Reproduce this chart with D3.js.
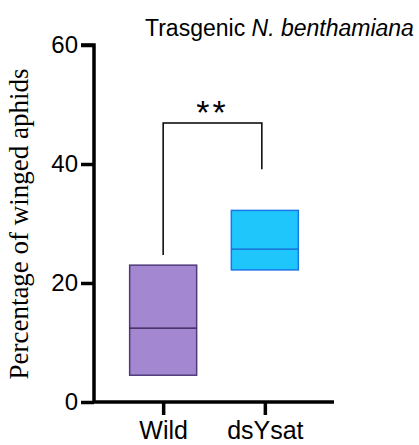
<!DOCTYPE html>
<meta charset="utf-8">
<style>
body{ margin: 0; background: white; }
svg text{ font-family: Arial, "Liberation Sans", sans-serif; }
</style>
<body>
<script src="https://cdn.jsdelivr.net/npm/d3@7"></script>
<script>

var groups = ['Wild', 'dsYsat']
var q1 = [4.5, 22.2],
    median = [12.4, 25.7],
    q3 = [23.0, 32.2]
var fills = ['#a388d1', '#1ec6fb'],
    strokes = ['#4f3b7a', '#1976e8']
var yTicks = [0, 20, 40, 60]
// significance bracket: left foot, top, right foot
var bracket = [24.7, 46.9, 39.1]

var width = 419, height = 445

var svg = d3.select('body').append('svg')
    .attr('width', width)
    .attr('height', height)

var x = d3.scalePoint().domain(groups).range([94, 334]).padding(0.68)
var y = d3.scaleLinear().domain([0, 60]).range([402, 45])
var boxW = 67

// boxes
var box = svg.selectAll('g.box').data(groups).enter().append('g')

box.append('rect')
    .attr('x', function(d){ return x(d) - boxW/2 })
    .attr('y', function(d, i){ return y(q3[i]) })
    .attr('width', boxW)
    .attr('height', function(d, i){ return y(q1[i]) - y(q3[i]) })
    .style('fill', function(d, i){ return fills[i] })
    .style('stroke', function(d, i){ return strokes[i] })
    .style('stroke-width', 1.5)

box.append('line')
    .attr('x1', function(d){ return x(d) - boxW/2 })
    .attr('x2', function(d){ return x(d) + boxW/2 })
    .attr('y1', function(d, i){ return y(median[i]) })
    .attr('y2', function(d, i){ return y(median[i]) })
    .style('stroke', function(d, i){ return i == 0 ? '#2a1a4a' : '#1960d0' })
    .style('stroke-width', 1.3)

// axes
var yAxis = svg.append('g')
    .attr('transform', 'translate(94,0)')
    .call(d3.axisLeft(y).tickValues(yTicks).tickSize(13).tickPadding(3))
yAxis.select('.domain').attr('d', 'M-13,' + y(60) + 'H0V' + y(0))

var xAxis = svg.append('g')
    .attr('transform', 'translate(0,' + y(0) + ')')
    .call(d3.axisBottom(x).tickSize(13).tickPadding(6))
xAxis.select('.domain').attr('d', 'M94,0H334')

svg.selectAll('.domain, .tick line')
    .style('stroke', 'black')
    .style('stroke-width', 3.5)
yAxis.selectAll('.tick text').style('font-size', '24px').style('fill', 'black')
xAxis.selectAll('.tick text').style('font-size', '25px').style('fill', 'black')

// bracket
var bx1 = x('Wild'), bx2 = x('dsYsat') - 3
svg.append('path')
    .attr('d', 'M' + bx1 + ',' + y(bracket[0]) + 'V' + y(bracket[1]) + 'H' + bx2 + 'V' + y(bracket[2]))
    .style('fill', 'none')
    .style('stroke', 'black')
    .style('stroke-width', 1.5)

svg.append('text')
    .attr('x', (bx1 + bx2) / 2)
    .attr('y', y(bracket[1]) + 1)
    .attr('text-anchor', 'middle')
    .style('font-size', '34px')
    .style('letter-spacing', '3px')
    .text('**')

// title
var title = svg.append('text')
    .attr('x', 145)
    .attr('y', 36)
    .style('font-size', '23px')
title.append('tspan').text('Trasgenic ')
title.append('tspan').style('font-style', 'italic').text('N. benthamiana')

// y label
svg.append('text')
    .attr('transform', 'translate(28,224) rotate(-90)')
    .attr('text-anchor', 'middle')
    .style('font-family', '"Liberation Serif", "Times New Roman", serif')
    .style('font-size', '27px')
    .text('Percentage of winged aphids')

</script>
</body>
